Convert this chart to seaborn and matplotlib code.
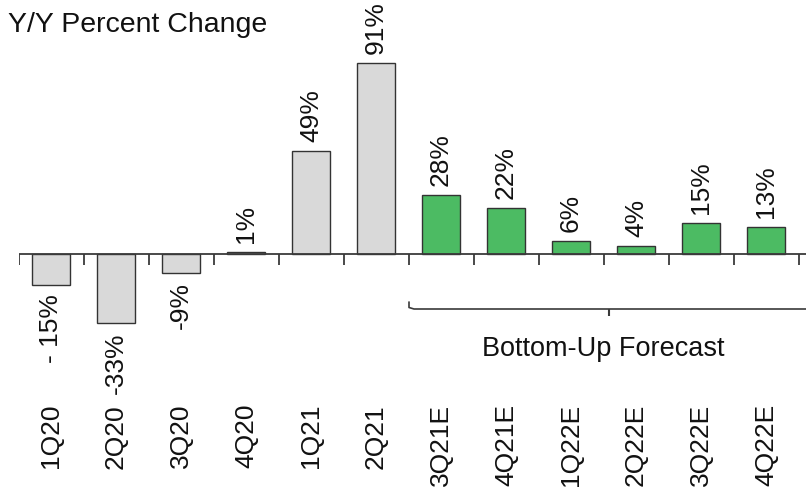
import matplotlib
matplotlib.use("Agg")
import matplotlib.pyplot as plt
import seaborn as sns
import pandas as pd

# Quarterly year-over-year change, actuals followed by estimates
quarters = ["1Q20", "2Q20", "3Q20", "4Q20", "1Q21", "2Q21",
            "3Q21E", "4Q21E", "1Q22E", "2Q22E", "3Q22E", "4Q22E"]
yoy_pct = [-15, -33, -9, 1, 49, 91, 28, 22, 6, 4, 15, 13]
value_labels = ["- 15%", "-33%", "-9%", "1%", "49%", "91%",
                "28%", "22%", "6%", "4%", "15%", "13%"]
period_type = ["Actual"] * 6 + ["Estimate"] * 6

title_text = "Y/Y Percent Change"
forecast_text = "Bottom-Up Forecast"

sns.set_theme(style="white")
plt.rcParams["font.family"] = ["Liberation Sans", "DejaVu Sans"]

W, H, DPI = 806, 494, 100
fig = plt.figure(figsize=(W / DPI, H / DPI), dpi=DPI)

# Axes spans the full figure height; pixel geometry mapped to data units
px_per_unit = 2.099
zero_px = 254
left_px = 18.5
step_px = 65.0
ax = fig.add_axes([left_px / W, 0, 1 - left_px / W, 1])

df = pd.DataFrame({"quarter": quarters, "yoy": yoy_pct, "type": period_type})
sns.barplot(data=df, x="quarter", y="yoy", hue="type",
            palette={"Actual": "#D9D9D9", "Estimate": "#4CBB63"},
            saturation=1, dodge=False, width=0.57, edgecolor="#333333",
            linewidth=1.0, legend=False, ax=ax)
ax.set_xlim(-0.5, -0.5 + (W - left_px) / step_px)
ax.set_ylim(-(H - zero_px) / px_per_unit, zero_px / px_per_unit)

for s in ax.spines.values():
    s.set_visible(False)
ax.set_xticks([])
ax.set_yticks([])
ax.set_xlabel("")
ax.set_ylabel("")

axis_col = "#3a3a3a"
ax.axhline(0, color=axis_col, lw=1.3, zorder=1)
tick_len = 11 / px_per_unit
for k in range(len(quarters) + 1):
    ax.plot([k - 0.5, k - 0.5], [0, -tick_len], color=axis_col, lw=1.3,
            solid_capstyle="butt", zorder=1)

fs = 19
gap = 9 / px_per_unit
for i, (v, lab) in enumerate(zip(yoy_pct, value_labels)):
    if v >= 0:
        ax.text(i, v + gap, lab, rotation=90, ha="center", va="bottom",
                fontsize=fs, color="#111111")
    else:
        ax.text(i, v - gap, lab, rotation=90, ha="center", va="top",
                fontsize=fs, color="#111111")

# Category labels under the axis
lab_y = -(404 - zero_px) / px_per_unit
for i, q in enumerate(quarters):
    ax.text(i, lab_y, q, rotation=90, ha="center", va="top",
            fontsize=fs, color="#111111")

# Bracket marking the forecast period
def px_x(p):
    return -0.5 + (p - left_px) / step_px

def px_y(p):
    return -(p - zero_px) / px_per_unit

bx0 = px_x(409)
by_top, by = px_y(302), px_y(309)
ax.plot([bx0, bx0, px_x(414), ax.get_xlim()[1]],
        [by_top, px_y(307.5), by, by], color=axis_col, lw=1.2, zorder=1)
ax.plot([px_x(609), px_x(609)], [by, px_y(316)], color=axis_col, lw=1.5,
        solid_capstyle="butt")
ax.text(px_x(603), px_y(349), forecast_text, ha="center", va="center",
        fontsize=19.5, color="#111111")

fig.text(8 / W, 1 - 12 / H, title_text, ha="left", va="top",
         fontsize=20.5, color="#111111")

fig.savefig("out.png", dpi=DPI, facecolor="white")
